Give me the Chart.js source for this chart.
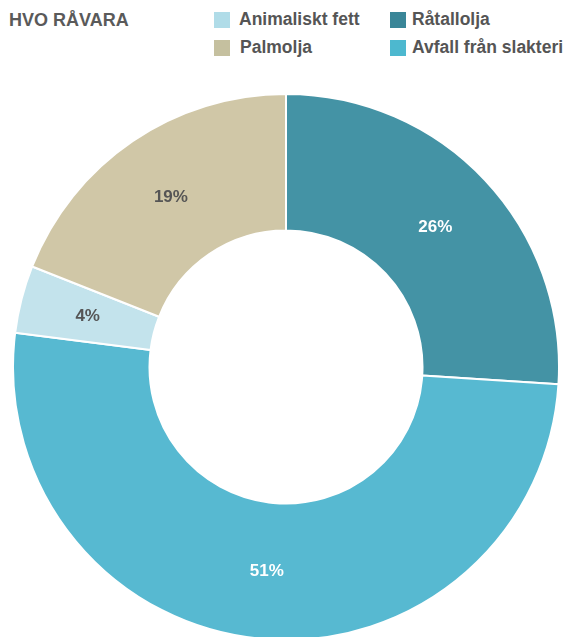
<!DOCTYPE html>
<html lang="sv">
<head>
<meta charset="utf-8">
<script src="https://cdn.jsdelivr.net/npm/chart.js@4"></script>
<style>
  html, body { margin: 0; padding: 0; background: #fff; overflow: hidden; }
  body { width: 568px; height: 637px; position: relative; font-family: "Liberation Sans", Arial, sans-serif; }
  .title { position: absolute; left: 9px; top: 9px; font-size: 18px; font-weight: bold; color: #5a5a5a; line-height: 22px; }
  .item { position: absolute; font-size: 17.5px; font-weight: bold; color: #555; line-height: 20px; white-space: nowrap; }
  .swatch { position: absolute; width: 16px; height: 16px; }
  #wrap { position: absolute; left: 12px; top: 93px; width: 548px; height: 548px; }
</style>
</head>
<body>
<div class="title">HVO RÅVARA</div>
<div id="legend"></div>
<div id="wrap"><canvas id="c"></canvas></div>
<script>
// Raw material shares, clockwise from twelve o'clock
const categories = ['Råtallolja', 'Avfall från slakteri', 'Animaliskt fett', 'Palmolja'];
const shares = [26, 51, 4, 19];
const sliceColors = ['#4493a5', '#57b9d1', '#c3e3ec', '#d0c7a7'];
const swatchColors = ['#3a8698', '#4db8cf', '#b0dce8', '#c5c09f'];
const labelColors = ['#ffffff', '#ffffff', '#555555', '#555555'];

// Legend order: two rows, two columns
const legendOrder = ['Animaliskt fett', 'Råtallolja', 'Palmolja', 'Avfall från slakteri'];
const legendSlots = [
  { box: [214, 12], text: [239, 9] },
  { box: [390, 12], text: [412, 9] },
  { box: [214, 40], text: [240, 37] },
  { box: [390, 40], text: [412, 37] }
];
const legend = document.getElementById('legend');
legendOrder.forEach((name, i) => {
  const idx = categories.indexOf(name);
  const s = legendSlots[i];
  const sw = document.createElement('div');
  sw.className = 'swatch';
  sw.style.left = s.box[0] + 'px';
  sw.style.top = s.box[1] + 'px';
  sw.style.background = swatchColors[idx];
  legend.appendChild(sw);
  const t = document.createElement('div');
  t.className = 'item';
  t.style.left = s.text[0] + 'px';
  t.style.top = s.text[1] + 'px';
  t.textContent = name;
  legend.appendChild(t);
});

// Percentage labels drawn at the middle of each ring segment
const sliceLabels = {
  id: 'sliceLabels',
  afterDatasetsDraw(chart) {
    const ctx = chart.ctx;
    const meta = chart.getDatasetMeta(0);
    ctx.save();
    ctx.font = 'bold 17px "Liberation Sans", Arial, sans-serif';
    ctx.textAlign = 'center';
    ctx.textBaseline = 'middle';
    meta.data.forEach((arc, i) => {
      const p = arc.tooltipPosition();
      ctx.fillStyle = labelColors[i];
      ctx.fillText(shares[i] + '%', p.x, p.y);
    });
    ctx.restore();
  }
};

new Chart(document.getElementById('c'), {
  type: 'doughnut',
  data: {
    labels: categories,
    datasets: [{
      data: shares,
      backgroundColor: sliceColors,
      borderColor: '#ffffff',
      borderWidth: 2
    }]
  },
  options: {
    responsive: true,
    maintainAspectRatio: false,
    animation: false,
    cutout: '50%',
    layout: { padding: 0 },
    plugins: {
      legend: { display: false },
      tooltip: { enabled: false },
      title: { display: false }
    }
  },
  plugins: [sliceLabels]
});
</script>
</body>
</html>
